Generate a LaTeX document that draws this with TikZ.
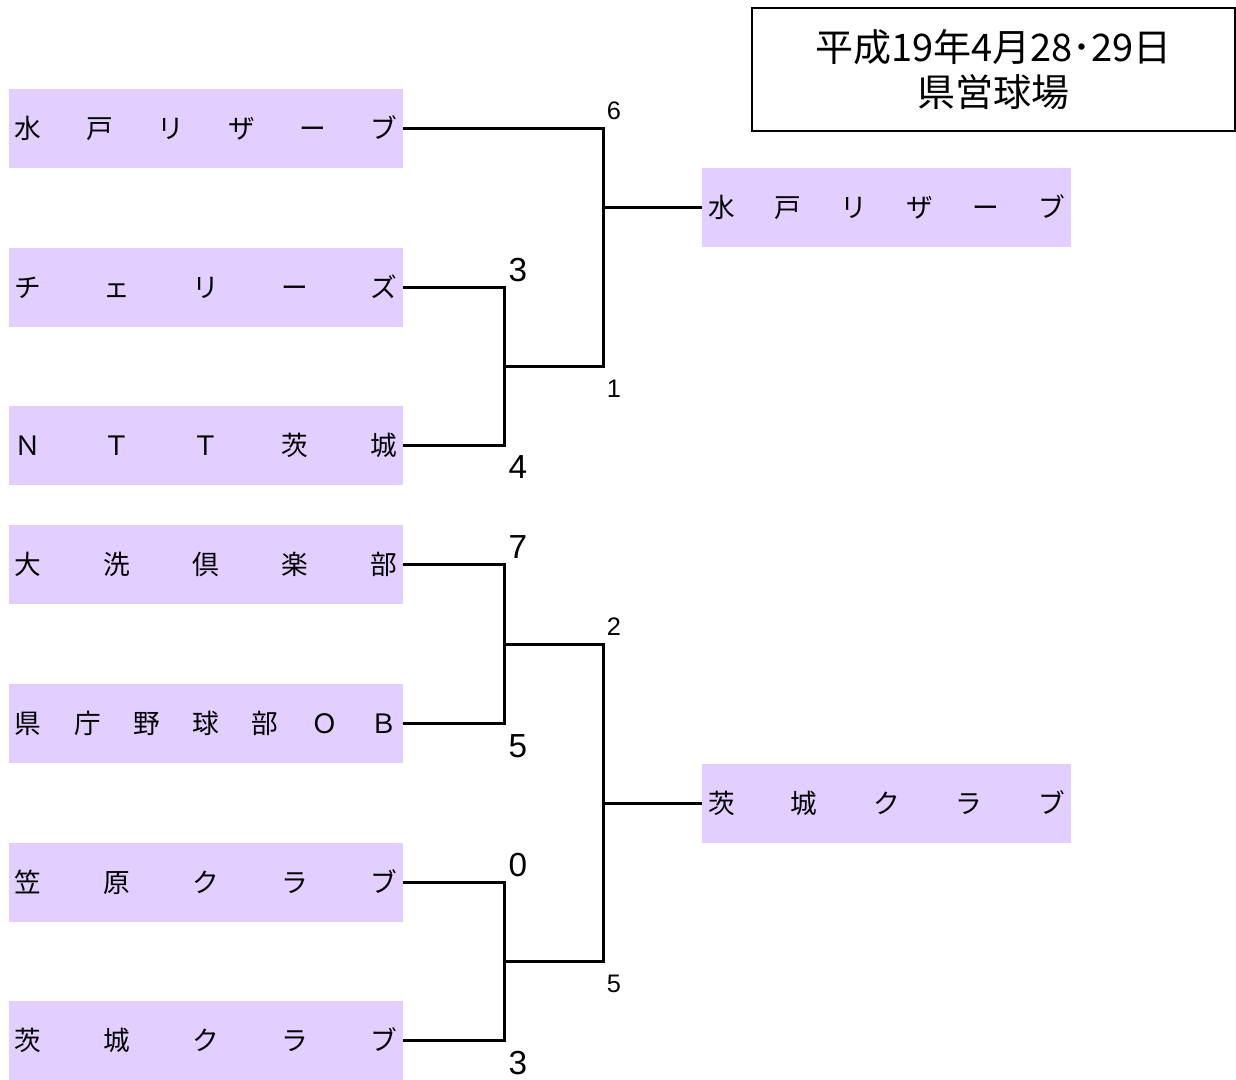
\documentclass[tikz,border=0pt]{standalone}
\usepackage{fontspec}
\setmainfont{Noto Sans CJK JP}
\newfontfamily\scorefont{Liberation Sans}
\definecolor{boxfill}{RGB}{226,206,255}
\newcommand\spreadL[1]{\makebox[286.5pt]{#1}}
\newcommand\spreadR[1]{\makebox[267.75pt]{#1}}
\begin{document}
\begin{tikzpicture}[x=0.75pt,y=-0.75pt,
  team/.style={fill=boxfill, draw=none, minimum width=295.5pt, minimum height=59.25pt,
    inner sep=0pt, font=\fontsize{20}{20}\selectfont},
  winner/.style={team, minimum width=276.75pt},
  link/.style={line width=2.25pt},
  bigscore/.style={font=\scorefont\fontsize{25}{25}\selectfont, inner sep=0pt, anchor=base},
  smallscore/.style={font=\scorefont\fontsize{19}{19}\selectfont, inner sep=0pt, anchor=base},
  titlebox/.style={draw, line width=1.5pt, minimum width=362pt, minimum height=92pt,
    align=center, font=\fontsize{28.5}{34}\selectfont}]
\useasboundingbox (0,0) rectangle (1236,1079);

% title
\node[titlebox] (title) at (993.5,69.5) {平成19年4月28･29日\\県営球場};

% first-round teams
\node[team] (t1) at (206,128.5) {\spreadL{水\hfill 戸\hfill リ\hfill ザ\hfill ー\hfill ブ}};
\node[team] (t2) at (206,287) {\spreadL{チ\hfill ェ\hfill リ\hfill ー\hfill ズ}};
\node[team] (t3) at (206,445.5) {\spreadL{Ｎ\hfill Ｔ\hfill Ｔ\hfill 茨\hfill 城}};
\node[team] (t4) at (206,564.5) {\spreadL{大\hfill 洗\hfill 倶\hfill 楽\hfill 部}};
\node[team] (t5) at (206,723.5) {\spreadL{県\hfill 庁\hfill 野\hfill 球\hfill 部\hfill Ｏ\hfill Ｂ}};
\node[team] (t6) at (206,882.5) {\spreadL{笠\hfill 原\hfill ク\hfill ラ\hfill ブ}};
\node[team] (t7) at (206,1040) {\spreadL{茨\hfill 城\hfill ク\hfill ラ\hfill ブ}};

% winners
\node[winner] (w1) at (886.5,207.5) {\spreadR{水\hfill 戸\hfill リ\hfill ザ\hfill ー\hfill ブ}};
\node[winner] (w2) at (886.5,803) {\spreadR{茨\hfill 城\hfill ク\hfill ラ\hfill ブ}};

% junctions
\coordinate (m23) at (504,366.5);
\coordinate (k1) at (603,366.5);
\coordinate (m45) at (504,644);
\coordinate (k2) at (603,644);
\coordinate (m67) at (504,961.5);

% connectors
\draw[link] (t2.east) -| (m23) |- (t3.east);
\draw[link] (t1.east) -| (k1) -- (m23);
\draw[link] (w1.west) -- (w1.west -| k1);

\draw[link] (t4.east) -| (m45) |- (t5.east);
\draw[link] (t6.east) -| (m67) |- (t7.east);
\draw[link] (m45) -- (k2) |- (m67);
\draw[link] (w2.west) -- (w2.west -| k2);

% scores
\node[smallscore] (s6) at (614,119.5) {6};
\node[bigscore] (s3a) at (518,281) {3};
\node[smallscore] (s1) at (614,397.5) {1};
\node[bigscore] (s4) at (518,478) {4};
\node[bigscore] (s7) at (518,558) {7};
\node[smallscore] (s2) at (614,635.5) {2};
\node[bigscore] (s5a) at (518,757) {5};
\node[bigscore] (s0) at (518,876) {0};
\node[smallscore] (s5b) at (614,992.5) {5};
\node[bigscore] (s3b) at (518,1074) {3};
\end{tikzpicture}
\end{document}
